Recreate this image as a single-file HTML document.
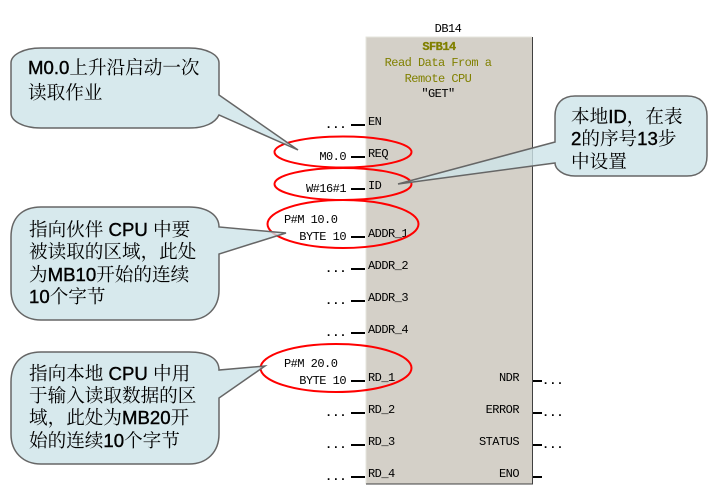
<!DOCTYPE html>
<html lang="zh">
<head>
<meta charset="utf-8">
<style>
html,body{margin:0;padding:0;background:#fff;width:728px;height:503px;overflow:hidden}
svg{display:block}
.m{font-family:"Liberation Mono","DejaVu Sans Mono",monospace;font-size:12px;letter-spacing:-.53px;fill:#000}
.o{fill:#808000}
.c{font-family:"Liberation Sans","Noto Serif CJK SC","WenQuanYi Zen Hei",sans-serif;font-size:18.6px;fill:#000}
.c tspan{stroke:#000;stroke-width:.4px}
.e{text-anchor:end}
.mid{text-anchor:middle}
.d{font-family:"Liberation Mono",monospace;font-size:12px;font-weight:bold;fill:#000}
.call{fill:#cde4e8;fill-opacity:.8;stroke:#666;stroke-width:1.5}
</style>
</head>
<body>
<svg width="728" height="503" viewBox="0 0 728 503" xmlns="http://www.w3.org/2000/svg">
<rect x="366" y="37" width="166" height="447" fill="#d4d0c8"/>
<path d="M366 484V37H532" fill="none" stroke="#e6e6de" stroke-width="1"/>
<path d="M532.5 37V484H366" fill="none" stroke="#404040" stroke-width="1"/>

<text class="m mid" x="448" y="32">DB14</text>
<text class="m o mid" x="439" y="50" font-weight="bold" stroke="#808000" stroke-width=".3">SFB14</text>
<text class="m o mid" x="438" y="66">Read Data From a</text>
<text class="m o mid" x="438" y="82">Remote CPU</text>
<text class="m mid" x="438" y="97">″GET″</text>

<g stroke="#000" stroke-width="2">
<path d="M351 125H365M351 157H365M351 189H365M351 237H365M351 269H365M351 301H365M351 333H365M351 381H365M351 413H365M351 445H365M351 477H365"/>
<path d="M533 381H542M533 413H542M533 445H542M533 477H542"/>
</g>

<g class="m">
<text x="368" y="125">EN</text>
<text x="368" y="157">REQ</text>
<text x="368" y="189">ID</text>
<text x="368" y="237">ADDR_1</text>
<text x="368" y="269">ADDR_2</text>
<text x="368" y="301">ADDR_3</text>
<text x="368" y="333">ADDR_4</text>
<text x="368" y="381">RD_1</text>
<text x="368" y="413">RD_2</text>
<text x="368" y="445">RD_3</text>
<text x="368" y="477">RD_4</text>
<text class="m e" x="519" y="381">NDR</text>
<text class="m e" x="519" y="413">ERROR</text>
<text class="m e" x="519" y="445">STATUS</text>
<text class="m e" x="519" y="477">ENO</text>
<text class="m e" x="346" y="160">M0.0</text>
<text class="m e" x="346" y="192">W#16#1</text>
<text x="284" y="223">P#M 10.0</text>
<text class="m e" x="346" y="240">BYTE 10</text>
<text x="284" y="367">P#M 20.0</text>
<text class="m e" x="346" y="384">BYTE 10</text>
</g>

<g class="d">
<text x="325" y="128">...</text>
<text x="325" y="272">...</text>
<text x="325" y="304">...</text>
<text x="325" y="336">...</text>
<text x="325" y="416">...</text>
<text x="325" y="448">...</text>
<text x="325" y="480">...</text>
<text x="542" y="384">...</text>
<text x="542" y="416">...</text>
<text x="542" y="448">...</text>
</g>

<g fill="none" stroke="#f00" stroke-width="2">
<ellipse cx="343" cy="152" rx="68.5" ry="15.5"/>
<ellipse cx="343" cy="184" rx="68.5" ry="16"/>
<ellipse cx="343" cy="224" rx="75.5" ry="24"/>
<ellipse cx="336" cy="368" rx="75.5" ry="24"/>
</g>

<path class="call" d="M41 48H189C207 48 219 55 219 63V95L298 150L219 115C215 123 205 128 189 128H41C23 128 11 121 11 113V63C11 55 23 48 41 48Z"/>
<path class="call" d="M41 207H189C207 207 219 215 219 227L286 233L219 254V290C219 308 207 320 189 320H41C23 320 11 308 11 290V237C11 217 23 207 41 207Z"/>
<path class="call" d="M41 352H189C207 352 219 358 219 370L265 366L219 398V434C219 452 207 464 189 464H41C23 464 11 452 11 434V382C11 362 23 352 41 352Z"/>
<path class="call" d="M575 96H687C700 96 707 103 707 116V156C707 169 700 176 687 176H575C563 176 555 169 555 163L398 184L555 142V116C555 103 563 96 575 96Z"/>

<g class="c">
<text x="28" y="74"><tspan>M0.0</tspan>上升沿启动一次</text>
<text x="28" y="99">读取作业</text>
<text x="29" y="236">指向伙伴 <tspan>CPU</tspan> 中要</text>
<text x="29" y="258">被读取的区域，此处</text>
<text x="29" y="281">为<tspan>MB10</tspan>开始的连续</text>
<text x="29" y="303"><tspan>10</tspan>个字节</text>
<text x="29" y="380">指向本地 <tspan>CPU</tspan> 中用</text>
<text x="29" y="402">于输入读取数据的区</text>
<text x="29" y="424">域，此处为<tspan>MB20</tspan>开</text>
<text x="29" y="447">始的连续<tspan>10</tspan>个字节</text>
<text x="571" y="123">本地<tspan>ID</tspan>，在表</text>
<text x="571" y="145"><tspan>2</tspan>的序号<tspan>13</tspan>步</text>
<text x="571" y="168">中设置</text>
</g>
</svg>
</body>
</html>
